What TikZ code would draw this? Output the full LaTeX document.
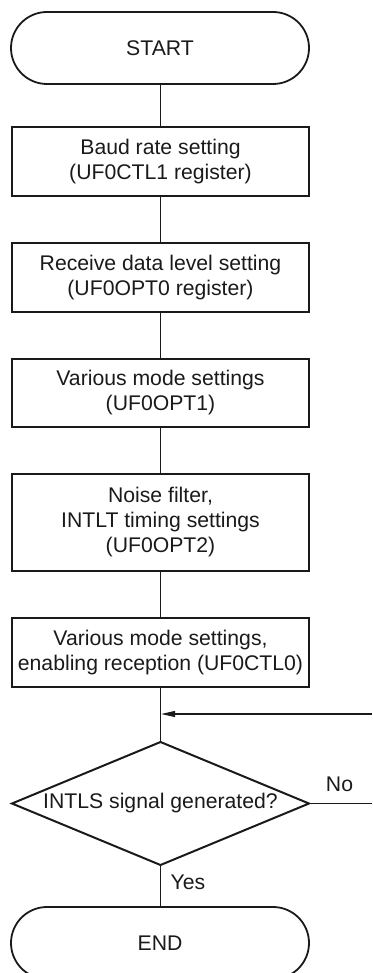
\documentclass[tikz,border=0pt]{standalone}
\usepackage{fontspec}
\setmainfont{Liberation Sans}
\usetikzlibrary{arrows.meta}
\definecolor{ink}{HTML}{1A1A1A}
\tikzset{
  every node/.style={font=\fontsize{21.2}{25}\selectfont, text=ink, inner sep=0pt, align=center},
  term/.style={draw=ink, line width=1.8pt, rounded corners=36pt, minimum width=298pt, minimum height=72pt},
  procbox/.style={draw=ink, line width=2pt, minimum width=297pt},
  conn/.style={draw=ink, line width=1.1pt},
  diam/.style={draw=ink, line width=2pt, line join=miter},
  lbl/.style={font=\fontsize{21.2}{25}\selectfont}
}
\begin{document}
\begin{tikzpicture}[x=1pt,y=-1pt]
\useasboundingbox (0,0) rectangle (372,973);
\clip (0,0) rectangle (372,973);
\node[term] (start) at (160,48) {START};
\node[procbox, minimum height=69pt] (b1) at (160.5,161.5) {Baud rate setting\\(UF0CTL1 register)};
\node[procbox, minimum height=69pt] (b2) at (160.5,277.5) {Receive data level setting\\(UF0OPT0 register)};
\node[procbox, minimum height=68pt] (b3) at (160.5,393) {Various mode settings\\(UF0OPT1)};
\node[procbox, minimum height=97pt] (b4) at (160.5,522.5) {Noise filter,\\INTLT timing settings\\(UF0OPT2)};
\node[procbox, minimum height=69pt] (b5) at (160.5,652.5) {Various mode settings,\\enabling reception (UF0CTL0)};
\coordinate (dt) at (160.5,742);
\coordinate (dl) at (12,803.5);
\coordinate (dr) at (309,803.5);
\coordinate (db) at (160.5,865);
\node (dtext) at (160.5,803.5) {INTLS signal generated?};
\node[term] (end) at (160,943) {END};
\coordinate (retin) at (372,714);
\coordinate (merge) at (160.5,714);
\coordinate (noout) at (372,803.5);
\node[lbl] (no) at (339.5,784) {No};
\node[lbl] (yes) at (188,882) {Yes};

\draw[diam] (dt) -- (dr) -- (db) -- (dl) -- cycle;
\draw[conn] (start.south -| b1.north) -- (b1.north);
\draw[conn] (b1) -- (b2);
\draw[conn] (b2) -- (b3);
\draw[conn] (b3) -- (b4);
\draw[conn] (b4) -- (b5);
\draw[conn] (b5.south) -- (dt);
\draw[conn] (db) -- (end.north -| db);
\draw[conn] (dr) -- (noout);
\draw[conn, -{Triangle[length=14pt,width=6pt]}] (retin) -- ([xshift=0.6pt]merge);
\end{tikzpicture}
\end{document}
